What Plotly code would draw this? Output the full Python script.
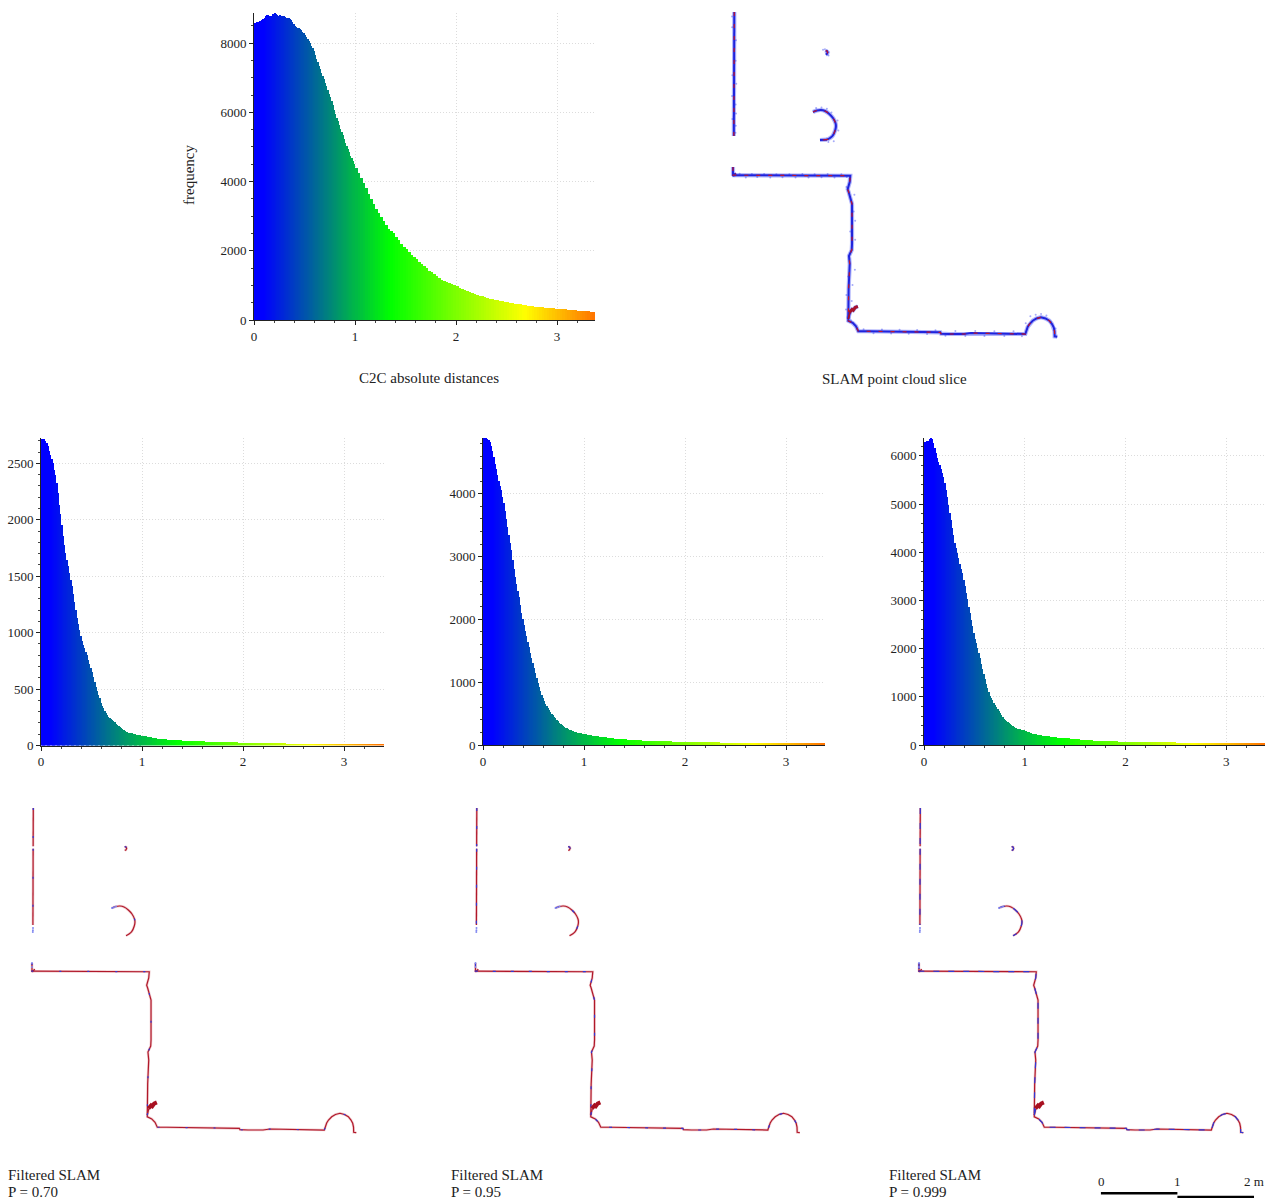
import plotly.graph_objects as go

W, H = 1266, 1201
FINE, BIN = 0.0125, 0.025

# fine bins cover 0 to 1, coarse bins continue from 1 to 3.4
main_fine = [
 8590,8570,8620,8620,8650,8640,8680,8700, 8740,8770,8820,8810,8780,8770,8790,8830,
 8890,8830,8800,8790,8800,8780,8780,8770, 8760,8740,8720,8720,8690,8670,8600,8540,
 8490,8470,8450,8430,8410,8370,8330,8280, 8230,8170,8110,8050,7990,7920,7850,7760,
 7660,7550,7440,7350,7260,7150,7040,6950, 6850,6750,6640,6540,6430,6320,6200,6080,
 5960,5850,5740,5640,5530,5440,5340,5230, 5120,5030,4930,4840,4750,4670,4590,4500]
main_coarse = [
 4400,4250,4110,3960, 3800,3640,3500,3360,
 3220,3090,2980,2860, 2740,2640,2560,2500, 2400,2300,2200,2120, 2050,1970,1890,1820,
 1750,1680,1620,1550, 1490,1430,1380,1320, 1270,1220,1170,1130, 1100,1070,1030,1000,
 970,930,900,870, 840,810,780,750, 720,700,680,660, 640,620,605,590,
 575,560,545,530, 520,505,490,475, 460,450,440,430, 415,405,400,390,
 380,370,365,355, 350,345,340,330, 325,320,310,305, 295,290,285,280,
 270,265,262,258, 250,245,240,238]
p70_fine = [
 2720,2715,2712,2700,2680,2650,2610,2570, 2540,2500,2445,2400,2330,2240,2130,2050,
 1950,1860,1780,1710,1640,1590,1530,1470, 1410,1340,1270,1200,1130,1080,1020,970,
 930,890,860,830,800,760,720,685, 650,610,560,520,480,450,420,380,
 350,330,310,290,270,255,240,232, 225,215,205,192,180,172,165,155,
 145,137,130,124,118,115,112,110, 108,104,100,97,95,92,90,88]
p70_coarse = [
 87,82,76,72, 68,66,62,58,
 56,55,52,50, 50,47,45,45, 44,42,40,41, 40,38,38,37,
 36,35,34,33, 32,31,30,30, 30,29,28,28, 27,27,26,26,
 26,25,25,24, 24,23,23,22, 21,21,20,20, 19,19,18,18,
 18,17,16,16, 15,14,14,13, 13,12,12,12, 12,12,13,13,
 13,14,14,14, 15,15,15,14, 15,14,15,14, 14,13,14,13,
 14,13,13,13, 12,12,12,12]
p95_fine = [
 4885,4885,4885,4875,4860,4830,4770,4680, 4580,4480,4390,4300,4210,4130,4060,3950,
 3850,3730,3600,3470,3340,3220,3110,2950, 2800,2680,2570,2460,2350,2230,2110,2010,
 1910,1820,1730,1640,1560,1470,1390,1300, 1220,1140,1060,990,930,860,800,750,
 700,660,620,585,555,525,500,475, 450,425,400,375,355,337,320,305,
 290,277,265,255,245,235,225,216, 208,202,197,192,188,184,180,176]
p95_coarse = [
 172,165,158,150, 142,137,132,127,
 122,118,112,106, 100,98,96,92, 90,86,84,80, 78,76,74,71,
 69,67,66,64, 62,61,60,58, 58,56,56,55, 54,54,53,53,
 52,51,51,50, 50,49,48,48, 47,46,44,43, 42,41,39,38,
 37,37,36,36, 35,34,34,33, 33,32,32,32, 33,32,32,33,
 32,33,32,32, 33,32,33,32, 32,33,32,31, 32,31,31,30,
 31,30,30,29, 29,28,28,28]
p999_fine = [
 6280,6290,6300,6310,6340,6370,6350,6270, 6170,6060,5960,5880,5800,5730,5650,5560,
 5440,5300,5150,4990,4820,4660,4500,4350, 4200,4090,3990,3880,3760,3660,3560,3430,
 3300,3160,3020,2870,2730,2590,2460,2330, 2200,2110,2020,1910,1800,1690,1580,1470,
 1370,1270,1180,1090,1020,980,940,880, 820,780,740,700,660,620,580,545,
 510,490,470,450,430,412,395,375, 355,347,340,332,325,317,310,302]
p999_coarse = [
 295,275,255,235, 218,208,200,192,
 185,178,172,166, 160,155,150,148, 144,138,132,126, 122,116,112,107,
 102,98,95,92, 90,88,86,85, 83,80,78,75, 74,72,71,70,
 69,68,67,66, 65,64,63,62, 61,60,59,58, 57,56,56,55,
 55,54,53,52, 51,50,49,48, 48,48,47,48, 48,47,48,48,
 48,47,48,48, 48,47,47,48, 47,46,45,44, 44,43,42,41,
 41,40,39,38, 37,36,35,34]
bin_centres = [round(FINE * (i + 0.5), 5) for i in range(len(main_fine))] + \
              [round(1 + BIN * (i + 0.5), 5) for i in range(len(main_coarse))]
bin_widths = [FINE] * len(main_fine) + [BIN] * len(main_coarse)

# point cloud slice, metres
wall_x = [0.030, 0.027, 0.024]
wall_y = [4.248, 3.700, 2.627]
wall_f_x = [0.030, 0.028, None, 0.028, 0.025]
wall_f_y = [4.248, 3.748, None, 3.716, 2.719]
pole_x = [1.225, 1.245, 1.250, 1.240, 1.225]
pole_y = [3.745, 3.735, 3.720, 3.700, 3.695]
arc_x = [1.059, 1.111, 1.163, 1.216, 1.272, 1.320, 1.353, 1.359, 1.350, 1.316, 1.281, 1.242]
arc_y = [2.941, 2.961, 2.967, 2.954, 2.915, 2.863, 2.797, 2.758, 2.706, 2.631, 2.601, 2.579]
arc_tail_x = [1.242, 1.195, 1.150]
arc_tail_y = [2.579, 2.572, 2.575]
stub_x = [0.013, 0.013, 0.050]
stub_y = [2.222, 2.108, 2.140]
path_x = [0.004, 0.600, 1.546, 1.539, 1.512, 1.525, 1.556, 1.569, 1.569, 1.565, 1.529, 1.539, 1.525, 1.520, 1.520,
          1.578, 1.621, 1.651, 1.774, 2.723, 2.732, 2.837, 3.033, 3.124, 3.834, 3.865, 3.889, 3.931, 3.980, 4.039,
          4.098, 4.148, 4.183, 4.205, 4.216, 4.218, 4.252]
path_y = [2.115, 2.110, 2.108, 2.026, 1.931, 1.895, 1.804, 1.739, 1.216, 1.137, 1.059, 0.954, 0.641, 0.235, 0.212,
          0.184, 0.140, 0.075, 0.075, 0.061, 0.043, 0.039, 0.039, 0.052, 0.039, 0.131, 0.170, 0.213, 0.242, 0.258,
          0.242, 0.213, 0.170, 0.127, 0.078, 0.009, 0.004]
link_x = [1.520, 1.530, 1.540]
link_y = [0.235, 0.280, 0.320]
blob_x = [1.535, 1.570, 1.585, 1.610, 1.645]
blob_y = [0.320, 0.360, 0.350, 0.385, 0.400]
sparse_x = [0.026, 0.025, 0.024, 0.013, 0.013, 1.059, 1.085, 1.111]
sparse_y = [2.680, 2.650, 2.627, 2.222, 2.170, 2.941, 2.950, 2.961]
fuzz_x = [0.002, 0.052, 0.048, 0.005, 0.056, 0.001, 0.047, 0.053, 0.004, 0.050, 0.000, 0.046,
          0.10, 0.18, 0.26, 0.33, 0.42, 0.50, 0.58, 0.66, 0.75, 0.83, 0.92, 1.00, 1.08, 1.17, 1.25, 1.34, 1.43, 1.50,
          1.495, 1.600, 1.590, 1.610, 1.545, 1.610, 1.535, 1.606, 1.520, 1.575, 1.495, 1.565, 1.490, 1.555,
          1.72, 1.85, 1.96, 2.08, 2.19, 2.31, 2.42, 2.55, 2.66, 2.79, 2.92, 3.05, 3.18, 3.30, 3.43, 3.56, 3.68, 3.79,
          3.84, 3.90, 3.97, 4.04, 4.11, 4.17, 4.23,
          1.10, 1.17, 1.24, 1.30, 1.38, 1.39, 1.33, 1.26, 1.19, 1.215, 1.262, 1.235, 1.258]
fuzz_y = [4.05, 3.88, 3.61, 3.42, 3.31, 3.15, 3.04, 2.92, 2.85, 2.76, 4.19, 2.67,
          2.135, 2.085, 2.132, 2.090, 2.130, 2.084, 2.128, 2.088, 2.126, 2.086, 2.130, 2.084, 2.127, 2.089, 2.131, 2.086, 2.128, 2.090,
          1.96, 1.86, 1.64, 1.52, 1.38, 1.27, 1.02, 0.88, 0.79, 0.68, 0.55, 0.47, 0.36, 0.22,
          0.100, 0.048, 0.098, 0.045, 0.094, 0.044, 0.092, 0.038, 0.088, 0.015, 0.079, 0.012, 0.080, 0.014, 0.076, 0.012, 0.074, 0.011,
          0.18, 0.27, 0.29, 0.30, 0.28, 0.20, 0.11,
          2.995, 3.000, 2.985, 2.935, 2.830, 2.700, 2.560, 2.550, 3.755, 3.760, 3.680, 3.695]

scale_left_x = [0, 1]
scale_right_x = [1, 2]
scale_left_y = [1, 1]
scale_right_y = [0, 0]

main_ticks = [0, 2000, 4000, 6000, 8000]
p70_ticks = [0, 500, 1000, 1500, 2000, 2500]
p95_ticks = [0, 1000, 2000, 3000, 4000]
p999_ticks = [0, 1000, 2000, 3000, 4000, 5000, 6000]
dist_ticks = [0, 1, 2, 3]

SERIF = "Liberation Serif"
TXT = "#222222"
colorscale = [[0, "rgb(0,0,255)"], [0.03, "rgb(0,0,255)"], [0.40, "rgb(0,255,0)"],
              [0.794, "rgb(255,255,0)"], [1, "rgb(255,115,0)"]]

fig = go.Figure()
layout = {}
n_axis = 0


def new_axes(left, right, top, bottom, xr, yr):
    global n_axis
    n_axis += 1
    s = "" if n_axis == 1 else str(n_axis)
    layout["xaxis" + s] = dict(domain=[left / W, right / W], range=xr, visible=False, fixedrange=True)
    layout["yaxis" + s] = dict(domain=[1 - bottom / H, 1 - top / H], range=yr, visible=False,
                               anchor="x" + s, fixedrange=True)
    layout["xaxis" + s]["anchor"] = "y" + s
    return s


def histogram(values, ticks, minor, left, right, top, bottom, xmax, ymax):
    s = new_axes(left, right, top, bottom, [0, xmax], [0, ymax])
    fig.add_trace(go.Bar(
        x=bin_centres, y=values, width=bin_widths, xaxis="x" + s, yaxis="y" + s,
        marker=dict(color=bin_centres, colorscale=colorscale, cmin=0, cmax=3.375, line=dict(width=0)),
        showlegend=False, hoverinfo="skip"))
    common = dict(visible=True, showline=True, linecolor="#222222", linewidth=1, ticks="outside",
                  ticklen=4, tickcolor="#222222", tickwidth=1, zeroline=False,
                  showgrid=True, gridcolor="#dcdcdc", gridwidth=1, griddash="1px,2px",
                  tickfont=dict(family=SERIF, size=13, color=TXT))
    layout["xaxis" + s].update(common, tickmode="array", tickvals=dist_ticks,
                               minor=dict(dtick=0.2, tick0=0, ticks="outside", ticklen=2,
                                          tickcolor="#444444", showgrid=False))
    layout["yaxis" + s].update(common, tickmode="array", tickvals=ticks,
                               minor=dict(dtick=minor, tick0=0, ticks="outside", ticklen=2,
                                          tickcolor="#444444", showgrid=False))


def line(s, x, y, color, width, dash="solid", shape="linear"):
    fig.add_trace(go.Scatter(x=x, y=y, mode="lines", xaxis="x" + s, yaxis="y" + s,
                             line=dict(color=color, width=width, dash=dash, shape=shape),
                             showlegend=False, hoverinfo="skip"))


def panel_range():
    return [-6 / 76.5, 334 / 76.5], [-7 / 76.5, 333 / 76.5]


def raw_slice(left, top):
    xr, yr = panel_range()
    s = new_axes(left, left + 340, top, top + 340, xr, yr)
    pieces = [(wall_x, wall_y, "linear"), (pole_x, pole_y, "linear"), (arc_x, arc_y, "spline"),
              (arc_tail_x, arc_tail_y, "linear"), (stub_x, stub_y, "linear"),
              (path_x, path_y, "linear"), (link_x, link_y, "linear"), (blob_x, blob_y, "linear")]
    for x, y, sh in pieces:
        line(s, x, y, "rgba(60,70,245,0.40)", 4.2, shape=sh)
    fig.add_trace(go.Scatter(x=fuzz_x, y=fuzz_y, mode="markers", xaxis="x" + s, yaxis="y" + s,
                             marker=dict(color="rgba(60,70,240,0.45)", size=2), showlegend=False,
                             hoverinfo="skip"))
    for x, y, sh in pieces:
        line(s, x, y, "#1f24dc", 2, shape=sh)
    for x, y, sh in pieces:
        line(s, x, y, "#c0142c", 1.2, "4px,8px", sh)
    line(s, blob_x, blob_y, "#a8122a", 3)
    line(s, link_x, link_y, "#a8122a", 1.6)


def filtered_slice(left, top, blue_dash):
    xr, yr = panel_range()
    s = new_axes(left, left + 340, top, top + 340, xr, yr)
    pieces = [(wall_f_x, wall_f_y, "linear"), (pole_x, pole_y, "linear"), (arc_x, arc_y, "spline"),
              (stub_x, stub_y, "linear"), (path_x, path_y, "linear"), (link_x, link_y, "linear")]
    for x, y, sh in pieces:
        line(s, x, y, "rgba(210,90,100,0.30)", 2.6, shape=sh)
    for x, y, sh in pieces:
        line(s, x, y, "#b0182a", 1.2, shape=sh)
    for x, y, sh in pieces:
        line(s, x, y, "#3038d8", 1.2, blue_dash, sh)
    line(s, blob_x, blob_y, "#a81020", 4)
    fig.add_trace(go.Scatter(x=sparse_x, y=sparse_y, mode="markers", xaxis="x" + s, yaxis="y" + s,
                             marker=dict(color="#8088f0", size=2), showlegend=False, hoverinfo="skip"))


histogram(main_fine + main_coarse, main_ticks, 500, 254, 595, 13, 320, 3.376, 8870)
histogram(p70_fine + p70_coarse, p70_ticks, 100, 41, 384, 438, 745.5, 3.396, 2725)
histogram(p95_fine + p95_coarse, p95_ticks, 200, 483, 825, 438, 745, 3.386, 4890)
histogram(p999_fine + p999_coarse, p999_ticks, 200, 924, 1265, 438, 745, 3.386, 6370)

raw_slice(726, 4)
filtered_slice(25, 800, "2px,26px")
filtered_slice(468.5, 800, "3px,15px")
filtered_slice(912, 800, "6px,9px")

# scale bar, metres
s = new_axes(1100.7, 1254.1, 1192, 1198, [0, 2], [-0.3, 1.3])
line(s, scale_left_x, scale_left_y, "#000000", 2.5)
line(s, scale_right_x, scale_right_y, "#000000", 2.5)


def note(text, x, y, anchor="center", size=15, angle=0):
    return dict(text=text, x=x / W, y=1 - y / H, xref="paper", yref="paper", showarrow=False,
                xanchor=anchor, yanchor="middle", textangle=angle,
                font=dict(family=SERIF, size=size, color=TXT))


layout["annotations"] = [
    note("C2C absolute distances", 429, 378),
    note("SLAM point cloud slice", 894, 379),
    note("frequency", 189, 175, angle=-90),
    note("Filtered SLAM", 6, 1175, "left"),
    note("P = 0.70", 6, 1192, "left"),
    note("Filtered SLAM", 449, 1175, "left"),
    note("P = 0.95", 449, 1192, "left"),
    note("Filtered SLAM", 887, 1175, "left"),
    note("P = 0.999", 887, 1192, "left"),
    note("0", 1101, 1181, size=13),
    note("1", 1177, 1181, size=13),
    note("2 m", 1254, 1181, size=13),
]

fig.update_layout(width=W, height=H, margin=dict(l=0, r=0, t=0, b=0, pad=0, autoexpand=False),
                  paper_bgcolor="white", plot_bgcolor="rgba(0,0,0,0)", bargap=0,
                  showlegend=False, **layout)
fig.write_html("out.html", config=dict(displayModeBar=False),
               post_script="document.body.style.margin='0';document.documentElement.style.overflow='hidden';")
